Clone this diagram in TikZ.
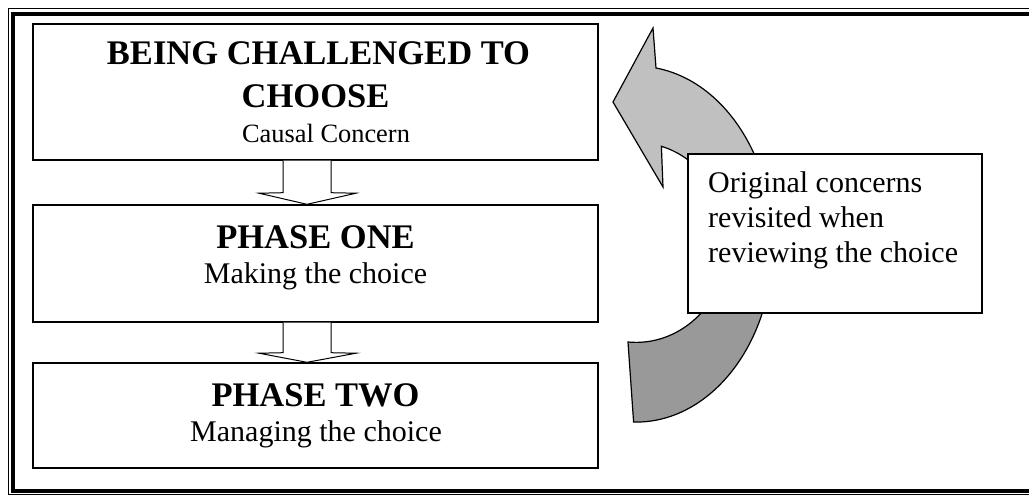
\documentclass[tikz,border=0pt]{standalone}
\usepackage{fontspec}
\setmainfont{Liberation Serif}
\usetikzlibrary{calc}
\definecolor{lightarrow}{HTML}{C0C0C0}
\definecolor{darkarrow}{HTML}{999999}
\tikzset{
  box/.style={draw=black, line width=1.4pt, fill=white, inner sep=0pt, rectangle},
  headtext/.style={inner sep=0pt, anchor=base, font=\fontsize{34.5}{40}\selectfont\bfseries},
  smalltext/.style={inner sep=0pt, anchor=base, font=\fontsize{26.4}{35}\selectfont},
  subtext/.style={inner sep=0pt, anchor=base, font=\fontsize{30}{35}\selectfont},
  sidetext/.style={inner sep=0pt, anchor=base west, font=\fontsize{30}{35}\selectfont},
  blockarrow/.style={draw=black, line width=1pt, fill=white, line join=miter},
  curvedshape/.style={draw=black, line width=1.2pt, line join=miter}
}
\newcommand\cvarrowpath{(656,68) arc[start angle=-81.6, end angle=91, x radius=137, y radius=178]
  -- (628,342) arc[start angle=95, end angle=-74, x radius=92, y radius=100]
  -- (663,187) -- (613,102) -- (653,28) -- cycle}
\begin{document}
\begin{tikzpicture}[x=1pt,y=-1pt]
\useasboundingbox (0,0) rectangle (1029,496);
\fill[white] (0,0) rectangle (1029,496);
% page border: thin outer, thick inner
\draw[line width=1.3pt] (8.6,8.6) rectangle (1045,494.6);
\draw[line width=4pt] (13.2,14) rectangle (1040,490.5);

% left boxes
\node[box, minimum width=565pt, minimum height=136pt] (b1) at (315.5,92) {};
\node[box, minimum width=565pt, minimum height=117pt] (b2) at (315.5,263.5) {};
\node[box, minimum width=565pt, minimum height=105pt] (b3) at (315.5,415.5) {};

% texts
\node[headtext] (t1a) at (318.5,64) {BEING CHALLENGED TO};
\node[headtext] (t1b) at (315.5,107) {CHOOSE};
\node[smalltext] (t1c) at (326,142) {Causal Concern};
\node[headtext] (t2a) at (315.5,248) {PHASE ONE};
\node[subtext] (t2b) at (315.5,283) {Making the choice};
\node[headtext] (t3a) at (315.5,406) {PHASE TWO};
\node[subtext] (t3b) at (316,441) {Managing the choice};

% block arrows between boxes
\draw[blockarrow] ($(b1.south)+(-32.5,0)$) -- ++(0,32) -- ++(-24,0.5)
  -- ($(b2.north)+(-8.5,0)$) -- ($(b1.south)+(40.5,32.5)$) -- ++(-25,-0.5) -- ($(b1.south)+(15.5,0)$);
\draw[blockarrow] ($(b2.south)+(-32.5,0)$) -- ++(0,30) -- ++(-24,0.5)
  -- ($(b3.north)+(-8.5,0)$) -- ($(b2.south)+(40.5,30.5)$) -- ++(-25,-0.5) -- ($(b2.south)+(15.5,0)$);

% curved arrow
\fill[lightarrow] \cvarrowpath;
\begin{scope}
  \clip (600,240) rectangle (800,440);
  \fill[darkarrow] \cvarrowpath;
\end{scope}
\draw[curvedshape] \cvarrowpath;

% side box
\node[box, line width=1.2pt, minimum width=294pt, minimum height=159pt] (rb) at (835,233.5) {};
\node[sidetext] (s1) at (708,192) {Original concerns};
\node[sidetext] (s2) at (708,227) {revisited when};
\node[sidetext] (s3) at (708,262) {reviewing the choice};
\end{tikzpicture}
\end{document}
